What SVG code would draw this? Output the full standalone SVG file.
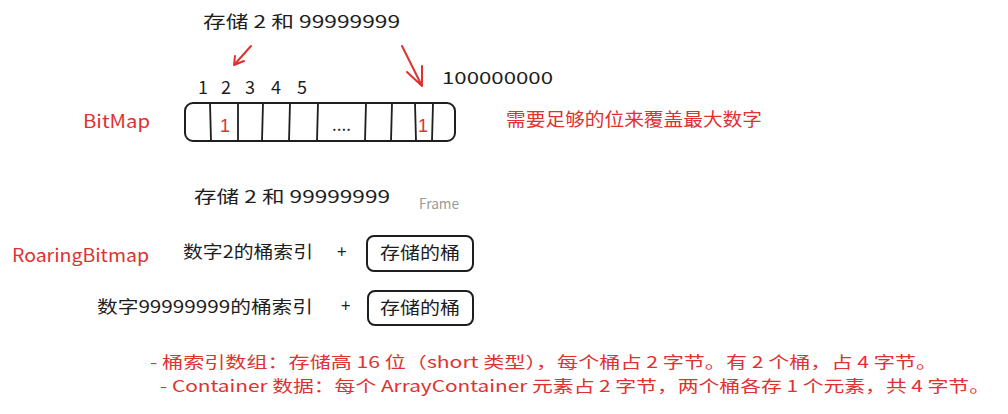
<svg xmlns="http://www.w3.org/2000/svg" width="1008" height="414" viewBox="0 0 1008 414">
<style>
text{font-family:"Noto Sans CJK SC","Liberation Sans",sans-serif;}
.k{fill:#1e1e1e;font-size:17px;}
.n{fill:#1e1e1e;font-size:18px;}
.r{fill:#e03131;}
.one{fill:#e03131;font-size:18px;font-family:"Liberation Sans",sans-serif;}
.box{fill:none;stroke:#1e1e1e;stroke-width:2;}
.div{stroke:#1e1e1e;stroke-width:1.8;}
.arr{fill:none;stroke:#e03131;stroke-width:2;stroke-linecap:round;stroke-linejoin:round;}
</style>
<rect width="1008" height="414" fill="#ffffff"/>
<g id="title-top"><text class="k" x="203" y="28" textLength="197" lengthAdjust="spacingAndGlyphs">存储 2 和 99999999</text></g>
<g id="indices">
<text class="n" x="198" y="94">1</text>
<text class="n" x="221" y="94">2</text>
<text class="n" x="245" y="94">3</text>
<text class="n" x="271" y="94">4</text>
<text class="n" x="297" y="94">5</text>
<text class="k" x="442" y="84" textLength="111" lengthAdjust="spacingAndGlyphs">100000000</text>
</g>
<g id="bitmap-label"><text class="r" x="83" y="128" font-size="18" textLength="67" lengthAdjust="spacingAndGlyphs">BitMap</text></g>
<g id="bitmap">
<rect class="box" x="185" y="103" width="270" height="38" rx="8"/>
<line class="div" x1="210" y1="103" x2="211" y2="141"/>
<line class="div" x1="238" y1="103" x2="238" y2="141"/>
<line class="div" x1="263" y1="103" x2="262" y2="141"/>
<line class="div" x1="290" y1="103" x2="289" y2="141"/>
<line class="div" x1="318" y1="103" x2="317" y2="141"/>
<line class="div" x1="366" y1="103" x2="365" y2="141"/>
<line class="div" x1="392" y1="103" x2="391" y2="141"/>
<line class="div" x1="415" y1="103" x2="416" y2="141"/>
<line class="div" x1="433" y1="103" x2="432" y2="141"/>
<text class="one" x="220" y="132">1</text>
<text class="one" x="418" y="132">1</text>
<text class="k" x="332" y="131" font-size="15">....</text>
</g>
<g id="connectors">
<path class="arr" d="M251 46 L234 65 M234 65 L235 56 M234 65 L244 61"/>
<path class="arr" d="M402 46 L422 86 M422 86 L422 66 M422 86 L407 72"/>
</g>
<g id="bitmap-note"><text class="r" x="506" y="126" font-size="18" textLength="256" lengthAdjust="spacingAndGlyphs">需要足够的位来覆盖最大数字</text></g>
<g id="title-2"><text class="k" x="194" y="203" textLength="196" lengthAdjust="spacingAndGlyphs">存储 2 和 99999999</text></g>
<g id="frame-label"><text x="419" y="209" font-size="14" fill="#999999" font-family="Liberation Sans, sans-serif" textLength="40" lengthAdjust="spacingAndGlyphs">Frame</text></g>
<g id="roaring-label"><text class="r" x="12" y="262" font-size="18" textLength="137" lengthAdjust="spacingAndGlyphs">RoaringBitmap</text></g>
<g id="row1">
<text class="k" x="183" y="258" textLength="130" lengthAdjust="spacingAndGlyphs">数字2的桶索引</text>
<text class="k" x="337" y="258">+</text>
</g>
<g id="bucket1">
<rect class="box" x="367" y="236" width="106" height="35" rx="7"/>
<text class="k" x="380" y="259" textLength="80" lengthAdjust="spacingAndGlyphs">存储的桶</text>
</g>
<g id="row2">
<text class="k" x="97" y="313" textLength="216" lengthAdjust="spacingAndGlyphs">数字99999999的桶索引</text>
<text class="k" x="341" y="312">+</text>
</g>
<g id="bucket2">
<rect class="box" x="368" y="291" width="105" height="34" rx="7"/>
<text class="k" x="380" y="314" textLength="80" lengthAdjust="spacingAndGlyphs">存储的桶</text>
</g>
<g id="notes">
<text class="r" x="150" y="368" font-size="16" textLength="787" lengthAdjust="spacingAndGlyphs">- 桶索引数组：存储高 16 位（short 类型），每个桶占 2 字节。有 2 个桶，占 4 字节。</text>
<text class="r" x="160" y="392" font-size="16" textLength="830" lengthAdjust="spacingAndGlyphs">- Container 数据：每个 ArrayContainer 元素占 2 字节，两个桶各存 1 个元素，共 4 字节。</text>
</g>
</svg>
